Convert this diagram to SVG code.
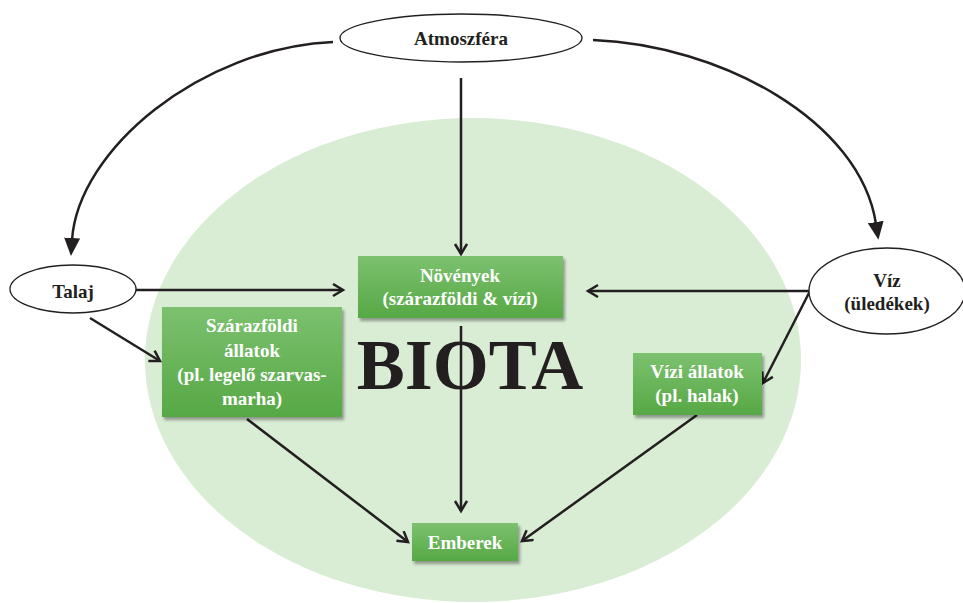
<svg xmlns="http://www.w3.org/2000/svg" width="963" height="603" viewBox="0 0 963 603">
<style>
.lbl{font-family:"Liberation Serif","Times New Roman",serif;font-weight:bold;font-size:19px;fill:#231f20;text-anchor:middle}
.wt{font-family:"Liberation Serif","Times New Roman",serif;font-weight:bold;font-size:19px;fill:#ffffff;text-anchor:middle}
.oval{fill:#ffffff;stroke:#231f20;stroke-width:1.3}
.box{fill:url(#g);filter:url(#sh)}
.ln{fill:none;stroke:#231f20;stroke-width:2.5}
</style>
<defs>
<linearGradient id="g" x1="0" y1="0" x2="0" y2="1">
<stop offset="0" stop-color="#7cc16f"/>
<stop offset="1" stop-color="#57a845"/>
</linearGradient>
<filter id="sh" x="-10%" y="-10%" width="130%" height="140%">
<feDropShadow dx="2" dy="3" stdDeviation="1.5" flood-color="#000" flood-opacity="0.35"/>
</filter>
<marker id="open" markerUnits="userSpaceOnUse" markerWidth="14" markerHeight="16" refX="11" refY="7" orient="auto" viewBox="0 0 14 16">
<path d="M1,1 L11,7 L1,13" fill="none" stroke="#231f20" stroke-width="2.5"/>
</marker>
<marker id="tri" markerUnits="userSpaceOnUse" markerWidth="18" markerHeight="16" refX="2" refY="8" orient="auto" viewBox="0 0 18 16">
<path d="M0,0 L18,8 L0,16 z" fill="#231f20"/>
</marker>
</defs>
<rect width="963" height="603" fill="#ffffff"/>
<ellipse cx="473" cy="360" rx="328" ry="242" fill="#d9ecd4"/>
<text x="470" y="389" font-family="Liberation Serif, Times New Roman, serif" font-weight="bold" font-size="72" fill="#231f20" text-anchor="middle">BIOTA</text>
<g id="connectors">
<path class="ln" marker-end="url(#tri)" d="M333 42 C200 48 78 150 72 240"/>
<path class="ln" marker-end="url(#tri)" d="M593 40 C720 45 860 120 876 224"/>
<path class="ln" marker-end="url(#open)" d="M461 78 L461 254"/>
<path class="ln" marker-end="url(#open)" d="M136 290 L343 290"/>
<path class="ln" marker-end="url(#open)" d="M810 291 L588 291"/>
<path class="ln" marker-end="url(#open)" d="M810 291 L763 383"/>
<path class="ln" marker-end="url(#open)" d="M90 318 L160 361"/>
<path class="ln" marker-end="url(#open)" d="M461 326 L461 511"/>
<path class="ln" marker-end="url(#open)" d="M247 419 L408 542"/>
<path class="ln" marker-end="url(#open)" d="M697 415 L522 541"/>
</g>
<g id="atmoszfera">
<ellipse class="oval" cx="461" cy="38" rx="121" ry="24"/>
<text class="lbl" x="461" y="45">Atmoszféra</text>
</g>
<g id="talaj">
<ellipse class="oval" cx="73" cy="289" rx="63" ry="24"/>
<text class="lbl" x="73" y="298">Talaj</text>
</g>
<g id="viz">
<ellipse class="oval" cx="887" cy="291" rx="78" ry="43"/>
<text class="lbl" x="887" y="287">Víz</text>
<text class="lbl" x="887" y="310">(üledékek)</text>
</g>
<g id="novenyek">
<rect class="box" x="358" y="256" width="205" height="62"/>
<text class="wt" x="460" y="282">Növények</text>
<text class="wt" x="460" y="305">(szárazföldi &amp; vízi)</text>
</g>
<g id="szarazfoldi">
<rect class="box" x="162" y="307" width="180" height="110"/>
<text class="wt" x="252" y="332">Szárazföldi</text>
<text class="wt" x="252" y="357">állatok</text>
<text class="wt" x="252" y="381">(pl. legelő szarvas-</text>
<text class="wt" x="252" y="405">marha)</text>
</g>
<g id="vizi-allatok">
<rect class="box" x="633" y="353" width="129" height="62"/>
<text class="wt" x="697" y="378">Vízi állatok</text>
<text class="wt" x="697" y="402">(pl. halak)</text>
</g>
<g id="emberek">
<rect class="box" x="412" y="523" width="106" height="38"/>
<text class="wt" x="465" y="549">Emberek</text>
</g>
</svg>
